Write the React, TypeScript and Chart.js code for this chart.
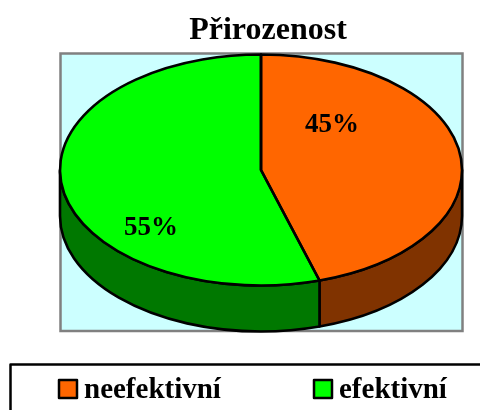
import React, { useEffect, useRef } from "react";
import { Chart, registerables } from "chart.js";

Chart.register(...registerables);

const titleText = "Přirozenost";
const categories = ["neefektivní", "efektivní"];
const values = [45.3, 54.7];
const faceColors = ["#FF6600", "#00FF00"];
const wallColors = ["#803300", "#007800"];

const FONT = "'Liberation Serif', 'Times New Roman', serif";
const PLOT = { left: 60.5, top: 53.5, right: 462.5, bottom: 331 };
const PIE = { cx: 261, cy: 170, rx: 201, ry: 115.5, depth: 46 };
const OUTLINE = 2.6;
const LABEL_OFFSET = [
  { dx: 0.353, dy: -0.39 },
  { dx: -0.547, dy: 0.5 },
];
const LEGEND = {
  boxLeft: 10.5,
  boxTop: 364.5,
  swatchX: [59, 314],
  swatchY: 380,
  swatchSize: 18,
  textGap: 7,
  baseline: 398,
};

const pie3d = {
  id: "pie3d",
  beforeDatasetsDraw(chart: any) {
    const { ctx } = chart;
    ctx.save();
    ctx.fillStyle = "#CCFFFF";
    ctx.strokeStyle = "#808080";
    ctx.lineWidth = 2.5;
    ctx.fillRect(PLOT.left, PLOT.top, PLOT.right - PLOT.left, PLOT.bottom - PLOT.top);
    ctx.strokeRect(PLOT.left, PLOT.top, PLOT.right - PLOT.left, PLOT.bottom - PLOT.top);

    const arcs = chart.getDatasetMeta(0).data;
    arcs.forEach((arc: any, i: number) => {
      const a1 = Math.max(arc.startAngle, 0);
      const a2 = Math.min(arc.endAngle, Math.PI);
      if (a2 <= a1) return;
      ctx.beginPath();
      ctx.ellipse(PIE.cx, PIE.cy, PIE.rx, PIE.ry, 0, a1, a2, false);
      ctx.ellipse(PIE.cx, PIE.cy + PIE.depth, PIE.rx, PIE.ry, 0, a2, a1, true);
      ctx.closePath();
      ctx.fillStyle = wallColors[i];
      ctx.fill();
      ctx.strokeStyle = "#000";
      ctx.lineWidth = OUTLINE;
      ctx.lineJoin = "round";
      ctx.stroke();
    });
    ctx.restore();
  },
  beforeDatasetDraw(chart: any) {
    const { ctx } = chart;
    const arc = chart.getDatasetMeta(0).data[0];
    ctx.save();
    ctx.translate(PIE.cx, PIE.cy);
    ctx.scale(PIE.rx / arc.outerRadius, PIE.ry / arc.outerRadius);
    ctx.translate(-arc.x, -arc.y);
  },
  afterDatasetDraw(chart: any) {
    chart.ctx.restore();
  },
  afterDatasetsDraw(chart: any) {
    const { ctx } = chart;
    const arcs = chart.getDatasetMeta(0).data;
    const total = values.reduce((s, v) => s + v, 0);
    ctx.save();
    arcs.forEach((arc: any) => {
      ctx.beginPath();
      ctx.moveTo(PIE.cx, PIE.cy);
      ctx.ellipse(PIE.cx, PIE.cy, PIE.rx, PIE.ry, 0, arc.startAngle, arc.endAngle, false);
      ctx.closePath();
      ctx.strokeStyle = "#000";
      ctx.lineWidth = OUTLINE;
      ctx.lineJoin = "round";
      ctx.stroke();
    });

    ctx.fillStyle = "#000";
    ctx.font = `bold 27px ${FONT}`;
    ctx.textAlign = "center";
    ctx.textBaseline = "middle";
    values.forEach((v, i) => {
      const off = LABEL_OFFSET[i];
      ctx.fillText(
        `${Math.round((v / total) * 100)}%`,
        PIE.cx + off.dx * PIE.rx,
        PIE.cy + off.dy * PIE.ry
      );
    });

    // legend
    ctx.strokeStyle = "#000";
    ctx.lineWidth = 2.5;
    ctx.strokeRect(LEGEND.boxLeft, LEGEND.boxTop, chart.width, chart.height);
    ctx.font = `bold 29px ${FONT}`;
    ctx.textAlign = "left";
    ctx.textBaseline = "alphabetic";
    categories.forEach((name, i) => {
      const x = LEGEND.swatchX[i];
      ctx.fillStyle = faceColors[i];
      ctx.fillRect(x, LEGEND.swatchY, LEGEND.swatchSize, LEGEND.swatchSize);
      ctx.strokeRect(x, LEGEND.swatchY, LEGEND.swatchSize, LEGEND.swatchSize);
      ctx.fillStyle = "#000";
      ctx.fillText(name, x + LEGEND.swatchSize + LEGEND.textGap, LEGEND.baseline);
    });
    ctx.restore();
  },
};

export default function App() {
  const ref = useRef<HTMLCanvasElement>(null);
  useEffect(() => {
    const chart = new Chart(ref.current!, {
      type: "pie",
      data: {
        labels: categories,
        datasets: [{ data: values, backgroundColor: faceColors, borderWidth: 0 }],
      },
      options: {
        responsive: false,
        animation: false,
        rotation: 0,
        layout: { padding: { left: 56, right: 0, top: 0, bottom: 60 } },
        plugins: {
          legend: { display: false },
          tooltip: { enabled: false },
          title: {
            display: true,
            text: titleText,
            color: "#000",
            font: { family: FONT, size: 32, weight: "bold" },
            padding: { top: 12, bottom: 7 },
          },
        },
      },
      plugins: [pie3d],
    } as any);
    return () => chart.destroy();
  }, []);
  return (
    <div style={{ position: "fixed", left: 0, top: 0, width: 480, height: 410, overflow: "hidden", background: "#fff" }}>
      <canvas ref={ref} width={480} height={410} style={{ display: "block" }} />
    </div>
  );
}
